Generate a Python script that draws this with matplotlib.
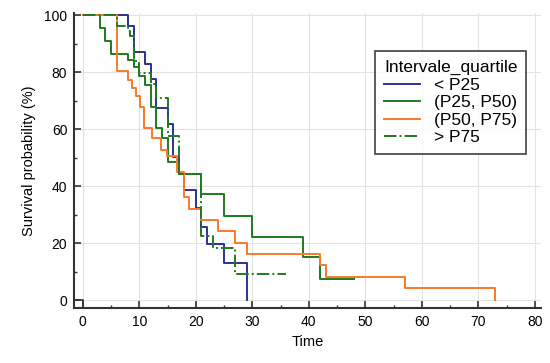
import matplotlib.pyplot as plt

plt.rcParams['font.family'] = ['Liberation Sans', 'DejaVu Sans']

# Kaplan-Meier curves (time, survival %)
blue_t = [0, 8, 9, 11, 12, 13, 15, 16, 17, 18, 20, 21, 22, 25, 29]
blue_s = [100, 96.2, 87.0, 83.0, 77.7, 67.3, 61.6, 50.3, 44.4, 38.6, 32.2, 25.7, 19.5, 13.1, 0]

green_t = [0, 3, 4, 5, 8, 9, 10, 11, 12, 13, 14, 15, 17, 21, 25, 30, 39, 42, 48]
green_s = [100, 95.6, 91.0, 86.4, 84.3, 81.6, 78.5, 75.3, 67.8, 60.2, 56.7, 48.5, 44.2,
           37.2, 29.6, 22.0, 15.0, 7.4, 7.4]

orange_t = [0, 6, 8, 8.7, 9.5, 10.1, 10.8, 12.2, 13.9, 14.9, 16.7, 17.9, 18.8, 21, 24,
            27, 29, 42, 43, 57, 73]
orange_s = [100, 80.3, 77.3, 74.4, 71.5, 67.8, 60.2, 56.7, 52.6, 50.5, 45.0, 36.2, 31.8,
            28.1, 24.1, 20.0, 16.0, 12.2, 8.1, 4.1, 0]

dd_t = [0, 6, 8, 8.4, 9, 9.5, 10, 12, 13, 15, 17, 21, 23, 27, 36]
dd_s = [100, 96.3, 94.5, 92.5, 85.0, 83.2, 79.6, 75.8, 70.9, 57.5, 44.4, 22.3, 18.1, 9.1, 9.1]

labels = ['< P25', '(P25, P50)', '(P50, P75)', '> P75']

fig = plt.figure(figsize=(5.5, 3.63), dpi=100)
ax = fig.add_axes([0.135, 0.1515, 0.849, 0.8125])

ax.step(blue_t, blue_s, where='post', color='#2e3192', lw=1.4, label=labels[0])
ax.step(green_t, green_s, where='post', color='#1f7a1f', lw=1.4, label=labels[1])
ax.step(orange_t, orange_s, where='post', color='#f97a2a', lw=1.4, label=labels[2])
ax.step(dd_t, dd_s, where='post', color='#1f7a1f', lw=1.4, ls='-.', label=labels[3])

ax.set_xlim(-1.5, 81.1)
ax.set_ylim(-2.8, 100.7)
ax.set_xticks(range(0, 81, 10))
ax.set_xticks(range(5, 81, 10), minor=True)
ax.set_yticks(range(0, 101, 20))
ax.set_yticks(range(10, 100, 20), minor=True)
ax.grid(True, which='major', color='#e3e3e3', lw=0.8)
ax.set_axisbelow(True)

for s in ['top', 'right']:
    ax.spines[s].set_visible(False)
for s in ['left', 'bottom']:
    ax.spines[s].set_color('#333333')
    ax.spines[s].set_linewidth(1.5)
ax.tick_params(which='major', direction='in', length=5, width=1.2, color='#333333',
               labelsize=10, pad=5)
ax.tick_params(which='minor', direction='in', length=2.5, width=1, color='#333333')

# little origin corner
ax.plot([-1.5, 0, 0], [0, 0, -2.8], color='#333333', lw=1.2, clip_on=False)

ax.set_xlabel('Time', fontsize=10.5, labelpad=4)
ax.set_ylabel('Survival probability (%)', fontsize=10.5, labelpad=6)

leg = ax.legend(title='Intervale_quartile', loc='upper left', bbox_to_anchor=(0.626, 0.9),
                fontsize=12.5, title_fontsize=12.5, frameon=True, fancybox=False,
                handlelength=2.1, handletextpad=0.8, labelspacing=0.14, borderpad=0.5)
leg._legend_box.align = 'left'
leg.get_frame().set_edgecolor('#222222')
leg.get_frame().set_linewidth(1.3)

fig.savefig('out.png', dpi=100)
